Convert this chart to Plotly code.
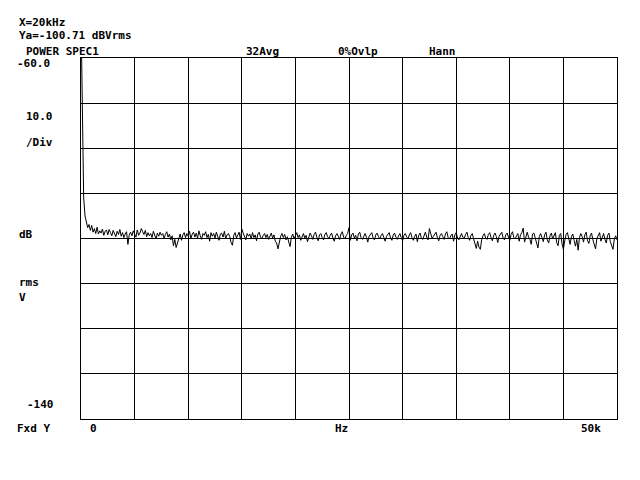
import plotly.graph_objects as go

# Frequency axis: 401 bins, 0 .. 50 kHz
bin_hz = 125
n_bins = 401
freqs = [i * bin_hz for i in range(n_bins)]

# Power spectrum levels (dBVrms)
levels = [
    -50.0, -75.5, -91.0, -95.0, -96.4, -97.6, -96.9, -98.2, -97.1, -98.6, -97.8, -98.9, -97.5, -99.0, -98.3, -98.8, -97.9, -99.3, -98.4, -98.1,
    -99.2, -98.0, -98.7, -99.4, -98.2, -98.9, -99.6, -98.4, -99.1, -98.0, -99.5, -98.7, -99.8, -99.0, -98.5, -101.3, -99.2, -98.6, -99.4, -98.3,
    -98.9, -99.7, -98.1, -99.3, -98.8, -97.8, -98.5, -99.1, -98.2, -99.6, -98.7, -99.4, -98.9, -99.8, -98.4, -99.2, -100.1, -98.8, -99.5, -98.6,
    -99.3, -98.9, -100.0, -99.1, -98.5, -99.7, -99.0, -100.3, -99.4, -101.6, -100.2, -102.0, -100.8, -99.6, -99.0, -100.4, -99.2, -98.7, -99.8, -98.9,
    -99.5, -98.4, -100.1, -99.0, -98.6, -99.7, -98.8, -99.9, -98.3, -99.4, -100.2, -98.9, -99.3, -98.5, -99.8, -99.1, -100.6, -98.7, -99.5, -98.9,
    -99.9, -98.6, -99.3, -100.4, -99.0, -98.8, -99.7, -98.4, -100.0, -99.2, -98.9, -99.6, -100.9, -101.5, -99.3, -98.7, -99.9, -99.1, -98.6, -100.2,
    -97.9, -98.8, -99.6, -100.3, -98.9, -99.5, -99.0, -100.1, -98.7, -99.8, -99.2, -100.5, -99.0, -98.6, -99.7, -100.0, -99.3, -98.9, -99.8, -99.1,
    -100.2, -99.4, -98.8, -99.9, -99.2, -100.6, -101.0, -102.3, -100.4, -99.5, -98.9, -99.8, -99.1, -100.3, -99.6, -100.9, -101.8, -99.7, -99.0, -100.1,
    -99.3, -98.7, -99.8, -99.2, -100.4, -99.5, -98.9, -99.9, -99.3, -100.7, -99.6, -98.8, -99.4, -100.2, -99.1, -98.6, -99.7, -100.5, -99.2, -98.9,
    -99.8, -100.3, -99.1, -98.7, -99.6, -100.0, -99.3, -98.8, -99.9, -100.6, -99.4, -98.9, -99.5, -100.2, -99.0, -98.5, -99.7, -100.1, -99.3, -98.9,
    -97.6, -100.4, -99.2, -98.8, -99.9, -99.3, -100.5, -99.0, -98.6, -99.8, -100.2, -99.4, -98.9, -99.7, -100.8, -99.5, -99.0, -98.7, -99.9, -100.3,
    -99.2, -98.8, -99.6, -100.1, -99.3, -98.9, -99.8, -100.6, -99.5, -99.0, -98.7, -99.9, -100.4, -99.2, -98.8, -99.7, -100.2, -99.4, -98.9, -99.8,
    -100.5, -99.3, -98.9, -99.6, -100.1, -99.2, -98.7, -99.8, -100.4, -99.5, -99.0, -100.7, -99.3, -98.8, -99.9, -100.2, -99.4, -98.6, -99.7, -100.3,
    -97.8, -98.8, -100.0, -99.5, -99.0, -98.6, -99.9, -100.5, -99.3, -98.9, -99.6, -100.2, -99.0, -98.5, -99.8, -100.1, -99.4, -99.0, -100.6, -99.2,
    -98.7, -99.9, -100.3, -99.5, -98.9, -99.7, -100.0, -99.1, -98.6, -99.8, -100.4, -99.3, -98.9, -100.1, -101.2, -102.2, -100.6, -101.9, -102.4, -100.3,
    -99.4, -98.9, -99.9, -100.2, -99.1, -98.7, -99.8, -100.5, -99.3, -98.8, -99.6, -100.9, -99.5, -99.0, -98.6, -99.9, -100.3, -99.2, -98.8, -99.7,
    -100.4, -99.1, -98.5, -99.8, -100.1, -99.4, -98.9, -100.6, -99.2, -98.7, -97.7, -100.8, -99.3, -98.6, -99.7, -100.2, -101.3, -99.0, -98.8, -100.0,
    -101.5, -102.1, -99.6, -98.9, -99.8, -100.7, -99.2, -98.6, -100.3, -101.0, -99.4, -98.8, -100.1, -99.5, -98.7, -100.9, -101.6, -99.3, -98.9, -101.2,
    -102.4, -100.5, -99.1, -98.7, -100.0, -101.3, -99.6, -99.0, -100.4, -101.7, -100.2, -102.6, -99.8, -98.9, -99.6, -100.8, -99.2, -98.6, -100.5, -101.1,
    -99.4, -98.8, -100.3, -101.4, -102.3, -100.0, -99.2, -98.7, -100.6, -99.5, -98.9, -100.2, -101.0, -99.3, -98.8, -100.7, -101.5, -102.4, -100.1, -99.4,
    -100.3,
]

y_top = -60.0
y_bottom = -140.0
y_div = 10.0
x_max = 50000
x_div = 5000

# Screen labels: (text, x_px, y_px) in window pixels
labels = [
    ("X=20kHz", 18, 22),
    ("Ya=-100.71 dBVrms", 18, 35.5),
    ("POWER SPEC1", 25, 52),
    ("32Avg", 245, 52),
    ("0%Ovlp", 337, 52),
    ("Hann", 428, 52),
    ("-60.0", 16, 64),
    ("10.0", 25, 116),
    ("/Div", 25, 142),
    ("dB", 18, 234),
    ("rms", 18, 282),
    ("V", 18, 297),
    ("-140", 26, 404),
    ("Fxd Y", 16, 428),
    ("0", 89, 428),
    ("Hz", 334, 428),
    ("50k", 580, 428),
]

# The page body has an 8 px margin; size the figure to fill the window.
body = 8
W, H = 640 - body, 480 - body
ml = 81 - body
mt = 58 - body
mr = 23
mb = 61
pw = W - ml - mr
ph = H - mt - mb

fig = go.Figure()
fig.add_trace(go.Scatter(
    x=freqs, y=levels, mode="lines",
    line=dict(color="black", width=1),
    hoverinfo="skip", showlegend=False,
))

font = dict(family="DejaVu Sans Mono", size=11, color="black")
annotations = []
for text, px, py in labels:
    annotations.append(dict(
        text="<b>" + text + "</b>",
        x=(px - body - ml) / pw, y=(H - mb - (py - body)) / ph,
        xref="paper", yref="paper",
        xanchor="left", yanchor="middle",
        showarrow=False, font=font, borderpad=0,
    ))

axis_common = dict(
    showline=True, linecolor="black", linewidth=1, mirror=True,
    showgrid=True, gridcolor="black", gridwidth=1,
    zeroline=False, showticklabels=False, ticks="",
)

fig.update_layout(
    width=W, height=H,
    margin=dict(l=ml, r=mr, t=mt, b=mb),
    paper_bgcolor="white", plot_bgcolor="white",
    xaxis=dict(range=[0, x_max], dtick=x_div, tick0=0, **axis_common),
    yaxis=dict(range=[y_bottom, y_top], dtick=y_div, tick0=y_bottom, **axis_common),
    annotations=annotations,
    showlegend=False,
)

fig.write_html("out.html")
